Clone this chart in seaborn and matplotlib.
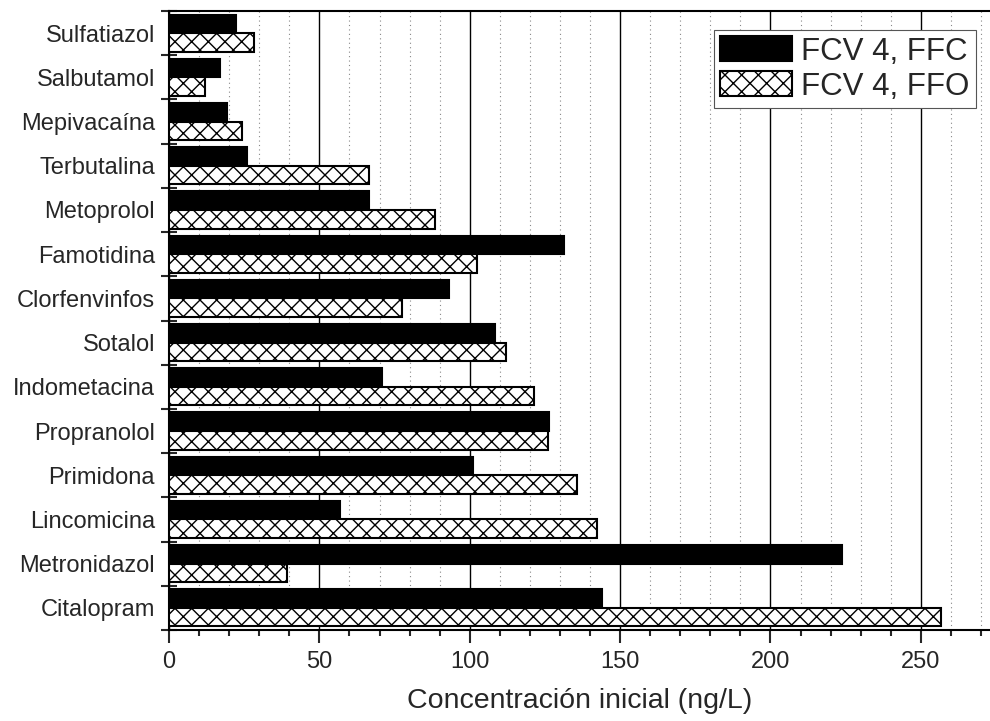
import matplotlib
matplotlib.use('Agg')
import numpy as np
import pandas as pd
import matplotlib.pyplot as plt
import seaborn as sns
from matplotlib.ticker import MultipleLocator

# compuestos, de arriba a abajo
compounds = ['Sulfatiazol', 'Salbutamol', 'Mepivacaína', 'Terbutalina', 'Metoprolol',
             'Famotidina', 'Clorfenvinfos', 'Sotalol', 'Indometacina', 'Propranolol',
             'Primidona', 'Lincomicina', 'Metronidazol', 'Citalopram']
ffc = [22.3, 17.1, 19.4, 25.9, 66.5, 131.2, 93.0, 108.3, 70.7, 126.2, 101.0, 57.0, 223.9, 144.1]
ffo = [28.3, 12.0, 24.4, 66.5, 88.5, 102.5, 77.6, 112.0, 121.3, 126.0, 135.6, 142.4, 39.1, 256.6]
series = ['FCV 4, FFC', 'FCV 4, FFO']

df = pd.DataFrame({'compuesto': compounds, series[0]: ffc, series[1]: ffo})
df = df.melt(id_vars='compuesto', var_name='serie', value_name='conc')

sns.set_style('white')
plt.rcParams['font.family'] = ['Liberation Sans', 'DejaVu Sans']
plt.rcParams['hatch.linewidth'] = 1.0
plt.rcParams['hatch.color'] = 'black'

fig = plt.figure(figsize=(9.9, 7.21), dpi=100)
ax = fig.add_axes([169 / 990, 1 - 630 / 721, (990 - 169) / 990, (630 - 11) / 721])

sns.barplot(data=df, y='compuesto', x='conc', hue='serie', orient='h',
            order=compounds, hue_order=series, palette=['black', 'white'],
            saturation=1, width=0.84, edgecolor='black', linewidth=1.5,
            legend=False, ax=ax, zorder=3)

for bar in ax.containers[1]:
    bar.set_hatch('xx')

n = len(compounds)
ax.set_ylim(n - 0.5, -0.5)
ax.set_xlim(0, 273)

# ticks del eje y en los limites de grupo, etiquetas en el centro
ax.set_yticks(np.arange(n + 1) - 0.5, labels=[''] * (n + 1))
ax.set_yticks(np.arange(n), labels=compounds, minor=True)
ax.tick_params(axis='y', which='major', direction='inout', length=11, width=1.5, left=True)
ax.tick_params(axis='y', which='minor', length=0, labelsize=17, pad=10, left=True)

ax.xaxis.set_major_locator(MultipleLocator(50))
ax.xaxis.set_minor_locator(MultipleLocator(10))
ax.tick_params(axis='x', which='major', direction='out', length=9, width=1.5, labelsize=17, pad=6, bottom=True)
ax.tick_params(axis='x', which='minor', direction='out', length=4.5, width=1.5, bottom=True)

ax.grid(True, axis='x', which='major', color='black', linewidth=1.0, linestyle='-')
ax.grid(True, axis='x', which='minor', color='#888888', linewidth=0.8, linestyle=(0, (1, 3)))
ax.grid(False, axis='y')
ax.set_axisbelow(True)

for side in ['left', 'bottom', 'top']:
    ax.spines[side].set_linewidth(1.5)
    ax.spines[side].set_color('black')
ax.spines['right'].set_visible(False)

ax.set_ylabel('')
ax.set_xlabel('Concentración inicial (ng/L)', fontsize=20.5, labelpad=11)

ax.legend(handles=[ax.containers[0], ax.containers[1]], labels=series,
          loc='upper right', bbox_to_anchor=(0.983, 0.969), fontsize=22.5,
          frameon=True, fancybox=False, framealpha=1, edgecolor='#555555',
          borderpad=0.2, labelspacing=0.15, handlelength=2.3, handleheight=0.85,
          handletextpad=0.3, borderaxespad=0)
ax.get_legend().get_frame().set_linewidth(0.8)

fig.savefig('out.png', dpi=100)
